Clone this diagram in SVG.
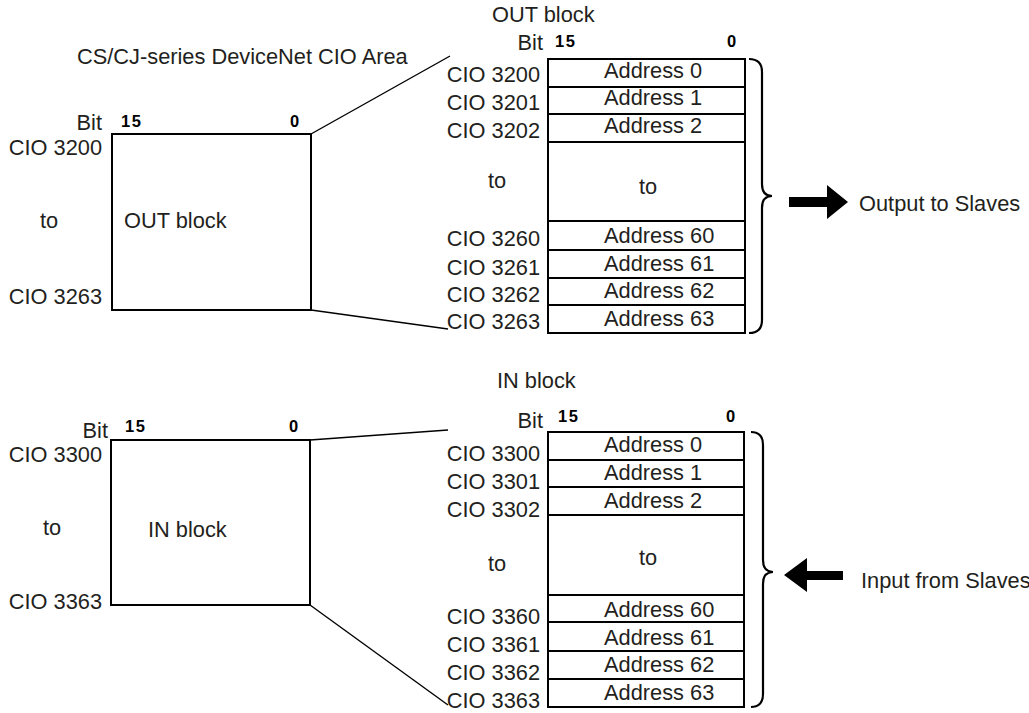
<svg xmlns="http://www.w3.org/2000/svg" width="1029" height="713" viewBox="0 0 1029 713">
<style>
  text { font-family: "Liberation Sans", Arial, sans-serif; font-size: 21.8px; fill: #231f20; }
  .bit { font-size: 16.5px; font-weight: bold; fill: #000; letter-spacing: 1.5px; }
  .end { text-anchor: end; }
  .box { fill: none; stroke: #000; stroke-width: 2; }
  .row { stroke: #000; stroke-width: 2; }
  .conn { stroke: #000; stroke-width: 1.4; fill: none; }
  .brace { fill: none; stroke: #000; stroke-width: 2.2; }
  .arrow { fill: #000; }
</style>
<rect width="1029" height="713" fill="#fff"/>

<text x="77" y="64">CS/CJ-series DeviceNet CIO Area</text>

<g id="out-area">
  <rect class="box" x="112" y="134" width="199" height="176"/>
  <text class="end" x="102" y="130">Bit</text>
  <text class="bit" x="121" y="127">15</text>
  <text class="bit" x="290" y="127">0</text>
  <text class="end" x="102" y="155">CIO 3200</text>
  <text x="40" y="228">to</text>
  <text x="124" y="228">OUT block</text>
  <text class="end" x="102" y="304">CIO 3263</text>
</g>

<g id="out-block">
  <text x="492" y="22">OUT block</text>
  <text class="end" x="543" y="50">Bit</text>
  <text class="bit" x="555" y="47">15</text>
  <text class="bit" x="727" y="47">0</text>
  <rect class="box" x="548" y="59" width="197" height="274"/>
  <line class="row" x1="548" y1="87" x2="745" y2="87"/>
  <line class="row" x1="548" y1="114" x2="745" y2="114"/>
  <line class="row" x1="548" y1="142" x2="745" y2="142"/>
  <line class="row" x1="548" y1="221" x2="745" y2="221"/>
  <line class="row" x1="548" y1="250" x2="745" y2="250"/>
  <line class="row" x1="548" y1="278" x2="745" y2="278"/>
  <line class="row" x1="548" y1="305" x2="745" y2="305"/>
  <text x="604" y="78">Address 0</text>
  <text x="604" y="105">Address 1</text>
  <text x="604" y="133">Address 2</text>
  <text x="639" y="194">to</text>
  <text x="604" y="243">Address 60</text>
  <text x="604" y="271">Address 61</text>
  <text x="604" y="298">Address 62</text>
  <text x="604" y="326">Address 63</text>
  <text class="end" x="540" y="82">CIO 3200</text>
  <text class="end" x="540" y="110">CIO 3201</text>
  <text class="end" x="540" y="138">CIO 3202</text>
  <text x="488" y="188">to</text>
  <text class="end" x="540" y="246">CIO 3260</text>
  <text class="end" x="540" y="275">CIO 3261</text>
  <text class="end" x="540" y="302">CIO 3262</text>
  <text class="end" x="540" y="329">CIO 3263</text>
</g>

<g id="out-brace">
  <path class="brace" d="M749,59 Q762,59 762,72 L762,184 Q762,196 772,196 Q762,196 762,208 L762,320 Q762,333 749,333"/>
</g>

<g id="output-slaves">
  <polygon class="arrow" points="789,197 827,197 827,185 848,202 827,219 827,207 789,207"/>
  <text x="859" y="211">Output to Slaves</text>
</g>

<g id="in-area">
  <rect class="box" x="111" y="440" width="199" height="165"/>
  <text class="end" x="108" y="438">Bit</text>
  <text class="bit" x="125" y="432">15</text>
  <text class="bit" x="289" y="432">0</text>
  <text class="end" x="102" y="462">CIO 3300</text>
  <text x="43" y="535">to</text>
  <text x="148" y="537">IN block</text>
  <text class="end" x="102" y="609">CIO 3363</text>
</g>

<g id="in-block">
  <text x="497" y="388">IN block</text>
  <text class="end" x="543" y="428">Bit</text>
  <text class="bit" x="558" y="422">15</text>
  <text class="bit" x="726" y="422">0</text>
  <rect class="box" x="548" y="432" width="196" height="275"/>
  <line class="row" x1="548" y1="460" x2="744" y2="460"/>
  <line class="row" x1="548" y1="487" x2="744" y2="487"/>
  <line class="row" x1="548" y1="515" x2="744" y2="515"/>
  <line class="row" x1="548" y1="595" x2="744" y2="595"/>
  <line class="row" x1="548" y1="622" x2="744" y2="622"/>
  <line class="row" x1="548" y1="651" x2="744" y2="651"/>
  <line class="row" x1="548" y1="679" x2="744" y2="679"/>
  <text x="604" y="452">Address 0</text>
  <text x="604" y="480">Address 1</text>
  <text x="604" y="508">Address 2</text>
  <text x="639" y="565">to</text>
  <text x="604" y="617">Address 60</text>
  <text x="604" y="645">Address 61</text>
  <text x="604" y="672">Address 62</text>
  <text x="604" y="700">Address 63</text>
  <text class="end" x="540" y="461">CIO 3300</text>
  <text class="end" x="540" y="489">CIO 3301</text>
  <text class="end" x="540" y="517">CIO 3302</text>
  <text x="488" y="571">to</text>
  <text class="end" x="540" y="624">CIO 3360</text>
  <text class="end" x="540" y="652">CIO 3361</text>
  <text class="end" x="540" y="680">CIO 3362</text>
  <text class="end" x="540" y="708">CIO 3363</text>
</g>

<g id="in-brace">
  <path class="brace" d="M751,432 Q763,432 763,445 L763,560 Q763,572 773,572 Q763,572 763,584 L763,694 Q763,707 751,707"/>
</g>

<g id="input-slaves">
  <polygon class="arrow" points="843,571 807,571 807,558 784,575 807,592 807,580 843,580"/>
  <text x="861" y="588">Input from Slaves</text>
</g>

<g id="connectors">
  <line class="conn" x1="311" y1="134" x2="450" y2="56"/>
  <line class="conn" x1="311" y1="310" x2="448" y2="329"/>
  <line class="conn" x1="310" y1="440" x2="448" y2="430"/>
  <line class="conn" x1="310" y1="605" x2="448" y2="705"/>
</g>
</svg>
